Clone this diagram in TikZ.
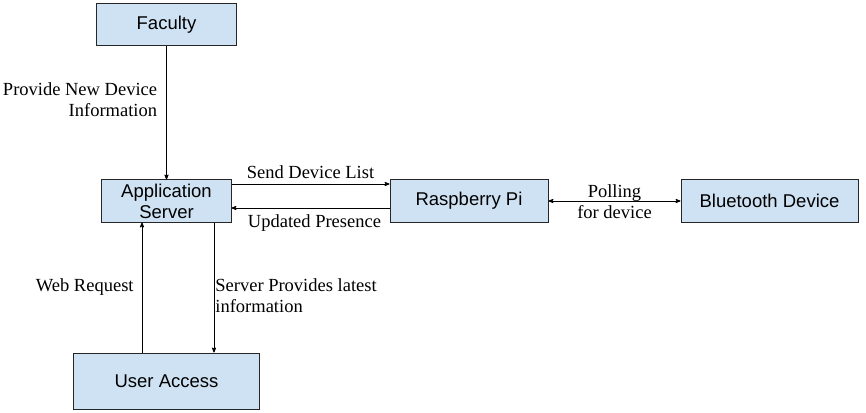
\documentclass[tikz,border=0pt]{standalone}
\usepackage{fontspec}
\setmainfont{Liberation Serif}
\newfontfamily\boxfont{Liberation Sans}
\usepackage{tikz}
\usetikzlibrary{arrows,positioning}
\definecolor{boxblue}{HTML}{CFE2F3}

\begin{document}
\begin{tikzpicture}[>=stealth',auto,line width=0.8pt,
	block/.style={shape=rectangle,draw=black!85,line width=1pt,fill=boxblue,inner sep=0pt,
		align=center,font=\boxfont\fontsize{18.5}{21}\selectfont},
	lbl/.style={font=\fontsize{18.5}{21}\selectfont,inner sep=2pt}]
	\useasboundingbox (-166.5pt,-211pt) rectangle (699.5pt,201pt);
					\node (server) [block,minimum width=129pt,minimum height=42pt] at (0,0) {Application\\Server};
					\node (faculty) [block,minimum width=140pt,minimum height=42pt] [above=133pt of server] {Faculty};
					\node (pi) [block,minimum width=158pt,minimum height=42pt] [right=158pt of server] {Raspberry Pi};
					\node (bt) [block,minimum width=177pt,minimum height=43pt] [right=132pt of pi] {Bluetooth Device};
					\node (user) [block,minimum width=185pt,minimum height=56pt] [below=130pt of server] {User Access};

					\path[->](faculty) edge node [lbl,swap,pos=0.4,align=right,xshift=-7pt] {Provide New Device\\Information} (server);
					\path[->]([yshift=17pt]server.east) edge node [lbl,yshift=3pt] {Send Device List} ([yshift=17pt]pi.west);
					\path[->]([yshift=-7pt]pi.west) edge node [lbl,yshift=-4pt,xshift=4pt] {Updated Presence} ([yshift=-7pt]server.east);
					\path[<->](pi) edge node [lbl,anchor=center,align=center,yshift=-1pt] {Polling\\for device} (bt);
					\path[->]([xshift=-24.5pt]user.north) edge node [lbl,anchor=east,xshift=-6pt] {Web Request} ([xshift=-24.5pt]server.south);
					\path[->]([xshift=47.5pt]server.south) edge node [lbl,anchor=west,pos=0.56,align=left,inner sep=1pt] {Server Provides latest\\information} ([xshift=47.5pt]user.north);
				\end{tikzpicture}
\end{document}
